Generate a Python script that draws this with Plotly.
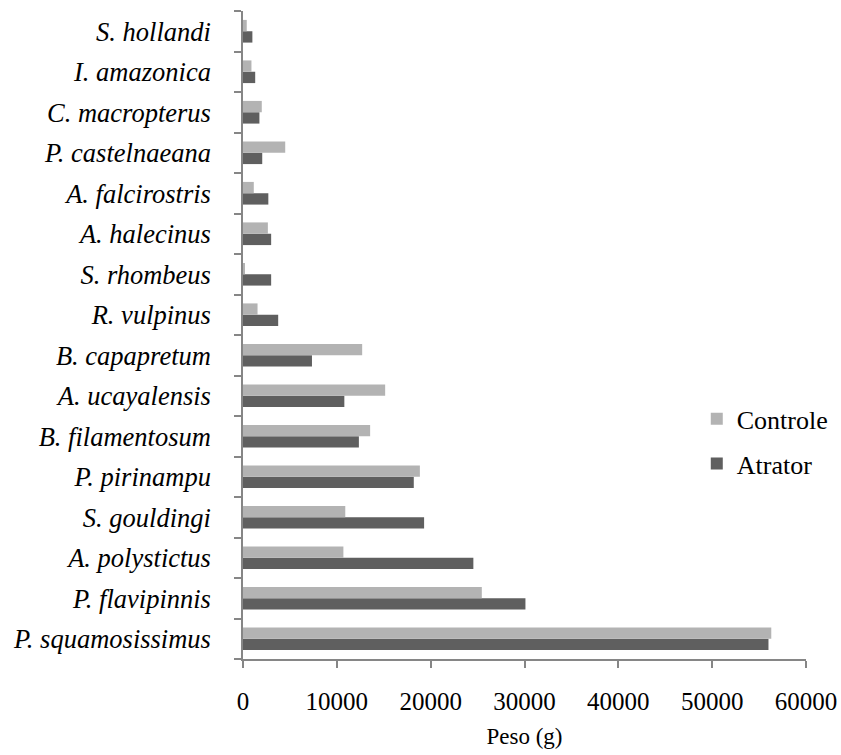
import plotly.graph_objects as go

# Species, listed from the bottom of the chart to the top
species = [
    "P. squamosissimus", "P. flavipinnis", "A. polystictus", "S. gouldingi",
    "P. pirinampu", "B. filamentosum", "A. ucayalensis", "B. capapretum",
    "R. vulpinus", "S. rhombeus", "A. halecinus", "A. falcirostris",
    "P. castelnaeana", "C. macropterus", "I. amazonica", "S. hollandi",
]

# Weight (g) per species
controle = [56300, 25450, 10700, 10900, 18850, 13550, 15150, 12700,
            1550, 150, 2650, 1150, 4500, 2000, 900, 400]
atrator = [56000, 30100, 24550, 19300, 18200, 12350, 10800, 7350,
           3750, 3000, 3000, 2700, 2050, 1750, 1300, 1000]

x_ticks = [0, 10000, 20000, 30000, 40000, 50000, 60000]

serif = "Liberation Serif"

fig = go.Figure()
fig.add_trace(go.Bar(
    y=species, x=atrator, name="Atrator", orientation="h",
    marker=dict(color="#5f5f5f", line=dict(width=0)),
    legendgroup="a", legendrank=2,
))
fig.add_trace(go.Bar(
    y=species, x=controle, name="Controle", orientation="h",
    marker=dict(color="#b3b3b3", line=dict(width=0)),
    legendgroup="c", legendrank=1,
))

fig.update_layout(
    width=841, height=755,
    margin=dict(l=243, r=35, t=11, b=96, autoexpand=False),
    paper_bgcolor="white", plot_bgcolor="white",
    barmode="group", bargap=0.44, bargroupgap=0,
    font=dict(family=serif, size=25, color="black"),
    showlegend=True,
    legend=dict(
        x=0.806, y=0.407, xanchor="left", yanchor="top",
        traceorder="grouped", tracegroupgap=8,
        font=dict(family=serif, size=26, color="black"),
        bgcolor="rgba(0,0,0,0)", itemwidth=30,
    ),
    xaxis=dict(
        range=[0, 60000], tickvals=x_ticks,
        ticktext=[str(v) for v in x_ticks],
        showgrid=False, zeroline=False,
        showline=True, linecolor="#868686", linewidth=1.5,
        ticks="outside", ticklen=7, tickcolor="#868686", tickwidth=1.5,
        ticklabelstandoff=12,
        tickfont=dict(family=serif, size=25, color="black"),
        title=dict(text="Peso (g)", standoff=14,
                   font=dict(family=serif, size=23, color="black")),
    ),
    yaxis=dict(
        categoryorder="array", categoryarray=species,
        showgrid=False, zeroline=False,
        showline=True, linecolor="#868686", linewidth=1.5,
        ticks="outside", ticklen=7, tickcolor="#868686", tickwidth=1.5,
        tickson="boundaries", ticklabelstandoff=25,
        tickfont=dict(family=serif, size=26.5, color="black", style="italic"),
    ),
)

fig.write_html("out.html")
